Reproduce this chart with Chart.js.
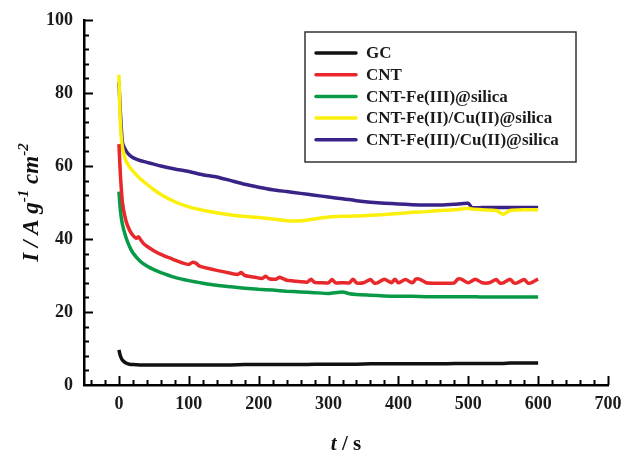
<!DOCTYPE html>
<html>
<head>
<meta charset="utf-8">
<script src="https://cdn.jsdelivr.net/npm/chart.js@4/dist/chart.umd.min.js"></script>
<style>
html, body { margin: 0; padding: 0; background: #fff; }
</style>
</head>
<body>
<canvas id="chart" width="621" height="451"></canvas>
<script>
// time axis (s) shared by the smooth curves
const time = [0, 2, 5, 10, 15, 20, 30, 40, 50, 60, 80, 100, 120, 140, 160, 180, 200, 220, 240, 260,
  280, 300, 320, 330, 340, 360, 380, 400, 420, 440, 460, 480, 500, 505, 520, 540, 550, 560, 580, 600];

const gc = [9.6, 8.0, 6.8, 6.0, 5.7, 5.6, 5.5, 5.5, 5.5, 5.5, 5.5, 5.5, 5.5, 5.5, 5.5, 5.6, 5.6, 5.6, 5.6, 5.6,
  5.7, 5.7, 5.7, 5.7, 5.7, 5.8, 5.8, 5.8, 5.8, 5.8, 5.8, 5.9, 5.9, 5.9, 5.9, 5.9, 5.9, 6.0, 6.0, 6.0];

const feSilica = [53, 48, 44, 40.5, 38, 36.2, 34, 32.6, 31.6, 30.8, 29.5, 28.6, 27.9, 27.3, 26.9, 26.5, 26.2, 26.0, 25.7, 25.5,
  25.3, 25.1, 25.5, 25.0, 24.8, 24.6, 24.4, 24.3, 24.3, 24.2, 24.2, 24.2, 24.2, 24.2, 24.1, 24.1, 24.1, 24.1, 24.1, 24.1];

const fe2Cu = [85, 72, 65, 61.5, 59.8, 58.6, 56.6, 55, 53.5, 52.2, 50.2, 48.8, 47.9, 47.2, 46.6, 46.2, 45.9, 45.5, 45.0, 45.0,
  45.5, 46.0, 46.2, 46.2, 46.3, 46.5, 46.7, 47.0, 47.3, 47.5, 47.8, 48.0, 48.4, 48.2, 48.0, 47.8, 46.8, 47.8, 48.0, 48.0];

const fe3Cu = [83, 75, 66.5, 64.2, 63, 62.3, 61.5, 61, 60.5, 60, 59.2, 58.5, 57.6, 57, 56, 55, 54.2, 53.5, 53.0, 52.5,
  52.0, 51.5, 51.0, 50.8, 50.5, 50.1, 49.8, 49.6, 49.4, 49.3, 49.3, 49.5, 49.8, 48.6, 48.6, 48.6, 48.6, 48.6, 48.6, 48.6];

// CNT curve is noisy, so it has its own denser time base
const cntTime = [0, 2, 5, 10, 15, 20, 25, 28, 31, 35, 40, 50, 60, 70, 80, 90, 100, 105, 110, 115, 120, 140, 160, 170, 175,
  180, 195, 205, 210, 215, 225, 230, 240, 250, 260, 270, 275, 280, 290, 300, 305, 310, 320, 330, 335, 340, 350, 360,
  365, 370, 380, 390, 395, 400, 410, 420, 425, 430, 440, 450, 460, 470, 480, 485, 490, 500, 510, 520, 530, 540, 545,
  550, 560, 565, 570, 580, 585, 590, 600];
const cnt = [66, 58, 50, 45, 42.5, 41, 40.2, 40.6, 39.8, 38.8, 38, 36.8, 35.8, 35, 34.2, 33.5, 33, 33.6, 33.4, 32.6, 32.3, 31.4, 30.6, 30.3, 30.8,
  30, 29.5, 29.2, 29.8, 29.1, 29, 29.5, 28.7, 28.5, 28.3, 28.2, 29.0, 28.1, 28, 28, 28.9, 28, 28, 28, 29.0, 28, 28, 28.9,
  28, 28, 29.0, 28, 29.0, 28, 28.9, 28, 29.0, 29.0, 28, 27.9, 27.9, 27.9, 28, 29.0, 29.0, 28, 29.0, 28, 28, 28.9, 28,
  28, 29.0, 28, 28, 28.9, 28, 28, 29.0];

const labels = ['GC', 'CNT', 'CNT-Fe(III)@silica', 'CNT-Fe(II)/Cu(II)@silica', 'CNT-Fe(III)/Cu(II)@silica'];
const colors = ['#111111', '#e8282b', '#089a47', '#fbef0c', '#3a2386'];

const xTicks = [0, 100, 200, 300, 400, 500, 600, 700];
const yTicks = [0, 20, 40, 60, 80, 100];

function pts(xs, ys) {
  return xs.map((x, i) => ({ x: x, y: ys[i] }));
}

const serif = "'Liberation Serif', 'Times New Roman', serif";

// inward tick marks, axis titles and the boxed legend
const decorations = {
  id: 'decorations',
  afterDraw(chart) {
    const ctx = chart.ctx;
    const xs = chart.scales.x;
    const ys = chart.scales.y;
    const area = chart.chartArea;
    ctx.save();
    ctx.strokeStyle = '#000';
    ctx.lineWidth = 2;
    for (let v = -40; v <= 700; v += 20) {
      const px = Math.round(xs.getPixelForValue(v)) + 0.5;
      const len = v % 100 === 0 ? 9 : 5;
      ctx.beginPath();
      ctx.moveTo(px, area.bottom);
      ctx.lineTo(px, area.bottom - len);
      ctx.stroke();
    }
    for (let v = 4; v <= 100; v += 4) {
      const py = Math.round(ys.getPixelForValue(v)) + 0.5;
      const len = v % 20 === 0 ? 9 : 5;
      ctx.beginPath();
      ctx.moveTo(area.left, py);
      ctx.lineTo(area.left + len, py);
      ctx.stroke();
    }

    // x title: t / s
    ctx.fillStyle = '#111';
    ctx.textBaseline = 'alphabetic';
    const cx = (area.left + area.right) / 2;
    ctx.font = 'italic bold 21px ' + serif;
    const tW = ctx.measureText('t').width;
    ctx.font = 'bold 21px ' + serif;
    const sW = ctx.measureText(' / s').width;
    let x0 = cx - (tW + sW) / 2;
    ctx.font = 'italic bold 21px ' + serif;
    ctx.fillText('t', x0, 450);
    ctx.font = 'bold 21px ' + serif;
    ctx.fillText(' / s', x0 + tW, 450);

    // y title: I / A g-1 cm-2 (rotated)
    const parts = [
      { t: 'I / A g', sup: false },
      { t: '-1', sup: true },
      { t: ' cm', sup: false },
      { t: '-2', sup: true }
    ];
    const mainFont = 'italic bold 23px ' + serif;
    const supFont = 'italic bold 15px ' + serif;
    let total = 0;
    parts.forEach(p => {
      ctx.font = p.sup ? supFont : mainFont;
      p.w = ctx.measureText(p.t).width;
      total += p.w;
    });
    ctx.translate(38, (area.top + area.bottom) / 2);
    ctx.rotate(-Math.PI / 2);
    let px = -total / 2;
    parts.forEach(p => {
      ctx.font = p.sup ? supFont : mainFont;
      ctx.fillText(p.t, px, p.sup ? -10 : 0);
      px += p.w;
    });
    ctx.restore();

    // legend box
    ctx.save();
    const box = { left: 305, top: 32, right: 576, bottom: 162 };
    ctx.strokeStyle = '#333';
    ctx.lineWidth = 1.5;
    ctx.fillStyle = '#fff';
    ctx.fillRect(box.left, box.top, box.right - box.left, box.bottom - box.top);
    ctx.strokeRect(box.left, box.top, box.right - box.left, box.bottom - box.top);
    ctx.font = 'bold 17px ' + serif;
    ctx.textBaseline = 'middle';
    chart.data.datasets.forEach((ds, i) => {
      const y = 53 + i * 21.7;
      ctx.strokeStyle = ds.borderColor;
      ctx.lineWidth = 3.5;
      ctx.lineCap = 'round';
      ctx.beginPath();
      ctx.moveTo(316, y);
      ctx.lineTo(356, y);
      ctx.stroke();
      ctx.fillStyle = '#1a1a1a';
      ctx.fillText(ds.label, 366, y + 1);
    });
    ctx.restore();
  }
};

const series = [
  { label: labels[0], data: pts(time, gc), color: colors[0] },
  { label: labels[1], data: pts(cntTime, cnt), color: colors[1] },
  { label: labels[2], data: pts(time, feSilica), color: colors[2] },
  { label: labels[3], data: pts(time, fe2Cu), color: colors[3] },
  { label: labels[4], data: pts(time, fe3Cu), color: colors[4] }
];

new Chart(document.getElementById('chart').getContext('2d'), {
  type: 'line',
  data: {
    datasets: series.map(s => ({
      label: s.label,
      data: s.data,
      borderColor: s.color,
      backgroundColor: s.color,
      borderWidth: 3.5,
      pointRadius: 0,
      tension: 0.2,
      fill: false
    }))
  },
  options: {
    responsive: false,
    animation: false,
    layout: { padding: { top: 20, right: 13, left: 0, bottom: 0 } },
    plugins: {
      legend: { display: false },
      tooltip: { enabled: false }
    },
    scales: {
      x: {
        type: 'linear',
        min: -50,
        max: 700,
        afterBuildTicks: (scale) => { scale.ticks = xTicks.map(v => ({ value: v })); },
        afterFit: (scale) => { scale.height = 66; scale.paddingRight = 0; scale.paddingLeft = 0; },
        grid: { display: false, drawTicks: false },
        border: { display: true, color: '#000', width: 2.5 },
        ticks: {
          padding: 9,
          color: '#1a1a1a',
          maxRotation: 0,
          font: { family: serif, weight: 'bold', size: 18 }
        }
      },
      y: {
        min: 0,
        max: 100,
        afterBuildTicks: (scale) => { scale.ticks = yTicks.map(v => ({ value: v })); },
        afterFit: (scale) => { scale.width = 84; scale.paddingTop = 0; scale.paddingBottom = 0; },
        grid: { display: false, drawTicks: false },
        border: { display: true, color: '#000', width: 2.5 },
        ticks: {
          padding: 11,
          color: '#1a1a1a',
          font: { family: serif, weight: 'bold', size: 18 }
        }
      }
    }
  },
  plugins: [decorations]
});
</script>
</body>
</html>
